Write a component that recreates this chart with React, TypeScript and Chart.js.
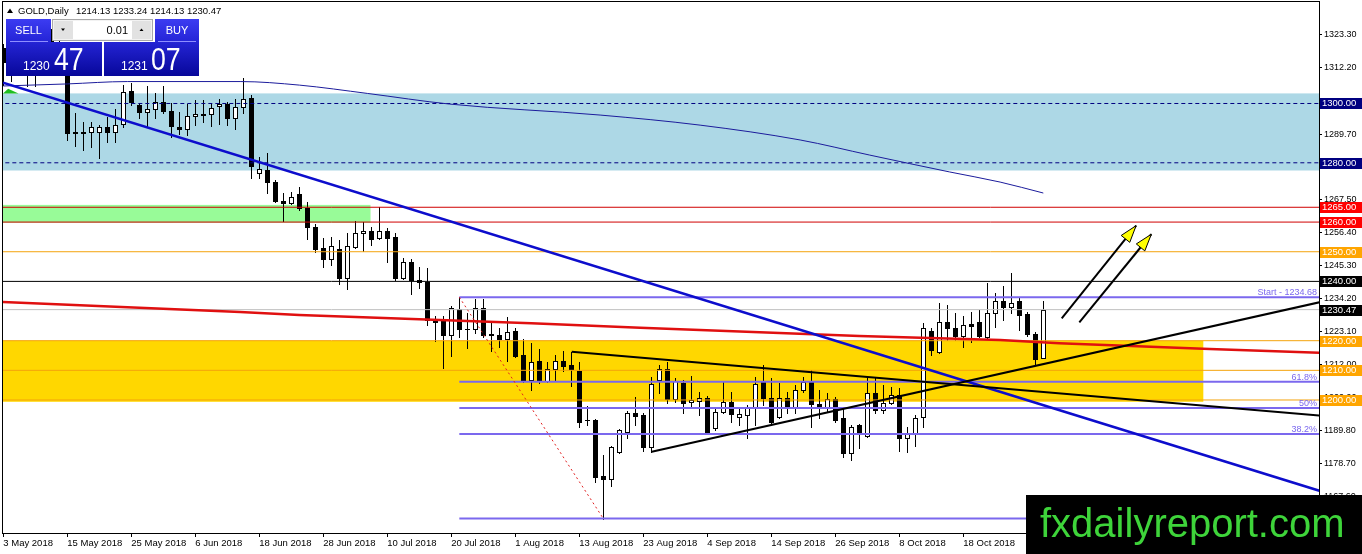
import { useEffect, useRef } from "react";
import { Chart, registerables } from "chart.js";

Chart.register(...registerables);

// GOLD daily bars, 3 May 2018 .. 1 Nov 2018 (index 0..130)
const open = [
  1318.6, 1314.0, 1314.6, 1313.5, 1313.0, 1312.8, 1321.5, 1318.0, 1316.5, 1290.1,
  1290.5, 1290.3, 1290.3, 1292.0, 1290.5, 1293.1, 1304.2, 1299.5, 1297.2, 1298.0,
  1300.6, 1297.6, 1292.0, 1291.3, 1295.8, 1296.5, 1296.4, 1299.2, 1299.7, 1295.0,
  1298.7, 1301.8, 1276.7, 1277.6, 1273.6, 1267.1, 1266.3, 1269.5, 1264.7, 1258.2,
  1251.2, 1247.5, 1250.8, 1241.0, 1251.7, 1256.2, 1257.0, 1254.7, 1257.0, 1254.9,
  1241.2, 1246.4, 1240.5, 1239.9, 1227.2, 1227.0, 1221.9, 1230.6, 1223.8, 1223.8,
  1230.9, 1222.2, 1221.9, 1220.7, 1223.3, 1215.2, 1206.7, 1213.2, 1206.5, 1210.4,
  1213.2, 1211.8, 1209.9, 1193.2, 1193.3, 1174.4, 1173.3, 1182.6, 1189.3, 1195.7,
  1194.9, 1184.3, 1206.6, 1210.4, 1200.2, 1205.6, 1199.2, 1199.7, 1200.6, 1190.4,
  1196.0, 1199.2, 1194.4, 1194.9, 1197.7, 1206.2, 1200.6, 1194.4, 1200.6, 1197.5,
  1203.4, 1206.2, 1198.7, 1197.7, 1200.2, 1193.8, 1182.0, 1191.6, 1187.9, 1202.3,
  1196.6, 1199.1, 1201.7, 1187.1, 1188.8, 1194.2, 1223.4, 1216.3, 1226.4, 1224.2,
  1221.6, 1225.6, 1226.4, 1221.1, 1229.4, 1233.5, 1231.3, 1233.5, 1228.9, 1222.3,
  1214.13,
];
const high = [
  1320.0, 1317.5, 1318.0, 1316.0, 1316.5, 1322.5, 1325.0, 1321.0, 1318.0, 1296.7,
  1293.9, 1293.9, 1292.7, 1295.5, 1298.0, 1306.2, 1307.0, 1300.1, 1305.9, 1303.6,
  1305.9, 1300.1, 1297.2, 1299.8, 1301.2, 1301.2, 1300.3, 1301.4, 1300.6, 1301.4,
  1308.5, 1302.9, 1281.9, 1283.4, 1274.3, 1269.7, 1270.3, 1271.9, 1266.9, 1259.4,
  1254.5, 1254.9, 1254.0, 1256.2, 1260.4, 1260.1, 1258.2, 1265.2, 1258.0, 1256.2,
  1247.8, 1247.5, 1244.8, 1244.4, 1228.3, 1228.3, 1231.7, 1234.68, 1229.2, 1234.0,
  1234.0, 1226.4, 1224.2, 1227.9, 1224.2, 1220.5, 1219.1, 1217.1, 1212.9, 1215.2,
  1216.5, 1216.3, 1212.9, 1198.0, 1193.5, 1181.3, 1184.6, 1190.2, 1196.4, 1201.1,
  1195.5, 1207.7, 1211.8, 1212.9, 1207.3, 1206.7, 1208.1, 1202.8, 1201.4, 1197.2,
  1206.2, 1202.8, 1197.2, 1198.3, 1207.9, 1211.8, 1207.3, 1205.6, 1202.8, 1205.1,
  1207.9, 1210.1, 1203.4, 1202.5, 1201.1, 1197.2, 1191.6, 1191.9, 1207.3, 1207.3,
  1205.1, 1204.5, 1203.9, 1190.8, 1195.0, 1225.9, 1224.2, 1232.8, 1232.0, 1229.2,
  1228.3, 1229.8, 1230.4, 1239.4, 1236.0, 1238.4, 1242.9, 1234.3, 1229.8, 1223.0,
  1233.24,
];
const low = [
  1306.2, 1307.6, 1310.5, 1305.9, 1305.9, 1310.5, 1316.0, 1312.0, 1287.7, 1285.7,
  1284.3, 1285.4, 1281.5, 1287.1, 1287.1, 1292.0, 1299.5, 1295.0, 1292.4, 1295.2,
  1296.9, 1288.8, 1289.6, 1289.4, 1292.7, 1293.9, 1292.4, 1293.1, 1292.7, 1291.3,
  1296.9, 1274.8, 1274.8, 1269.7, 1266.9, 1260.5, 1266.0, 1264.1, 1254.2, 1250.0,
  1245.0, 1245.5, 1239.1, 1237.3, 1251.2, 1250.4, 1252.3, 1254.2, 1246.6, 1240.4,
  1240.7, 1235.7, 1237.7, 1225.3, 1220.0, 1210.7, 1214.8, 1221.4, 1217.4, 1222.5,
  1221.4, 1216.6, 1218.0, 1213.3, 1214.6, 1206.2, 1203.4, 1205.8, 1206.2, 1206.7,
  1209.9, 1204.7, 1191.0, 1191.6, 1172.2, 1160.0, 1171.1, 1182.0, 1187.1, 1191.6,
  1182.9, 1182.6, 1202.3, 1198.9, 1199.4, 1195.5, 1197.7, 1194.9, 1188.5, 1189.9,
  1195.5, 1192.7, 1191.6, 1187.1, 1191.6, 1198.3, 1191.6, 1193.8, 1195.5, 1195.5,
  1202.8, 1191.0, 1193.8, 1196.1, 1192.7, 1180.9, 1179.8, 1183.7, 1187.6, 1195.7,
  1195.5, 1198.7, 1182.9, 1182.6, 1184.5, 1191.0, 1215.2, 1216.0, 1220.2, 1220.2,
  1218.0, 1219.7, 1221.4, 1220.8, 1224.7, 1227.0, 1229.2, 1223.6, 1221.6, 1211.8,
  1214.13,
];
const close = [
  1314.0, 1314.6, 1313.5, 1313.0, 1312.8, 1321.5, 1318.0, 1316.5, 1290.0, 1290.3,
  1289.9, 1292.2, 1292.0, 1290.5, 1292.7, 1304.0, 1300.6, 1297.2, 1298.0, 1300.6,
  1297.6, 1292.5, 1291.3, 1295.8, 1296.3, 1296.0, 1298.4, 1299.7, 1295.0, 1298.7,
  1301.4, 1279.0, 1277.8, 1273.6, 1267.2, 1266.3, 1268.6, 1264.7, 1258.2, 1250.9,
  1247.5, 1252.0, 1241.0, 1252.0, 1256.2, 1257.0, 1254.2, 1257.0, 1254.7, 1241.0,
  1246.4, 1240.5, 1239.7, 1227.0, 1226.4, 1221.9, 1230.9, 1223.8, 1224.0, 1230.9,
  1221.9, 1221.8, 1220.7, 1223.0, 1214.9, 1206.7, 1212.9, 1206.4, 1210.4, 1213.2,
  1211.5, 1210.5, 1192.7, 1193.4, 1174.1, 1173.3, 1184.3, 1189.9, 1195.5, 1194.7,
  1184.3, 1205.3, 1210.4, 1200.2, 1206.5, 1198.9, 1200.0, 1200.6, 1188.8, 1196.0,
  1199.2, 1195.2, 1195.2, 1197.7, 1205.4, 1200.6, 1192.7, 1200.6, 1197.7, 1203.4,
  1206.2, 1198.7, 1197.7, 1200.2, 1193.3, 1182.0, 1191.0, 1188.8, 1202.3, 1196.6,
  1198.9, 1201.7, 1187.1, 1189.0, 1193.8, 1224.2, 1216.9, 1226.4, 1224.2, 1221.6,
  1225.3, 1225.1, 1221.6, 1229.4, 1233.5, 1231.3, 1232.8, 1228.7, 1222.3, 1213.7,
  1230.47,
];

// time axis: one label every 8 bars
const tickLabels = [
  "3 May 2018", "15 May 2018", "25 May 2018", "6 Jun 2018", "18 Jun 2018", "28 Jun 2018",
  "10 Jul 2018", "20 Jul 2018", "1 Aug 2018", "13 Aug 2018", "23 Aug 2018", "4 Sep 2018",
  "14 Sep 2018", "26 Sep 2018", "8 Oct 2018", "18 Oct 2018", "30 Oct 2018",
];
const priceTicks = [
  1323.3, 1312.2, 1300.8, 1289.7, 1278.6, 1267.5, 1256.4, 1245.3, 1234.2, 1223.1,
  1212.0, 1200.9, 1189.8, 1178.7, 1167.6,
];

// drawn levels
const navyLevels = [1300, 1280];
const redLevels = [1265, 1260];
const orangeLevels = [1250, 1220, 1210, 1200];
const blackLevels = [1240];
const bid = 1230.47;
const ask = 1231.07;
const ohlcText = "1214.13 1233.24 1214.13 1230.47";

// zones: [fromBar, toBar, top, bottom]
const blueZone = [-5, 170, 1303.4, 1277.4];
const greenZone = [-5, 45.9, 1265.8, 1259.8];
const goldZone = [-5, 150, 1220, 1199.4];

// fibonacci retracement
const fibHigh = 1234.68;
const fibLow = 1160.0;
const fibFrom = 57;
const fibTo = 75;
const fibRatios = [1, 0.618, 0.5, 0.382, 0];
const fibNames = ["Start - 1234.68", "61.8%", "50%", "38.2%", ""];

// trend lines: [bar, price]
const blueTrend = [[-0.04, 1307.0], [164.5, 1169.4]];
const lowerTrend = [[81.05, 1182.56], [164.5, 1232.95]];
const upperTrend = [[71.05, 1216.3], [164.5, 1194.8]];
const redAverage = [
  [-0.04, 1233.05], [29.6, 1229.7], [37, 1228.7], [52, 1227.2], [57.1, 1226.7], [66, 1225.9],
  [79.6, 1224.4], [107, 1221.6], [124.6, 1220.2], [132, 1219.1], [150.8, 1217.2], [164.5, 1215.9],
];
const navyAverage = [
  [0, 1305.9], [8, 1306.6], [15.5, 1307.4], [29.6, 1307.4], [37, 1306.2], [45.5, 1303.4],
  [55.8, 1299.8], [74.6, 1296.1], [87.1, 1292.7], [99.6, 1287.7], [108.3, 1282.6],
  [118.3, 1276.9], [124.6, 1273.5], [130, 1269.8],
];
const arrows = [
  [[132.3, 1227.55], [141.6, 1258.8]],
  [[134.5, 1226.2], [143.5, 1255.9]],
];

const FONT = "'Liberation Sans', Arial, sans-serif";

const line = (pts, color, width, order, dash = [], smooth = false) => ({
  type: "line",
  data: pts.map(([a, b]) => ({ x: a, y: b })),
  borderColor: color,
  borderWidth: width,
  borderDash: dash,
  pointRadius: 0,
  fill: false,
  clip: 0,
  order,
  cubicInterpolationMode: smooth ? "monotone" : "default",
  tension: smooth ? 0.4 : 0,
});

const level = (v, color, width, order, dash = [], from = -5) =>
  line([[from, v], [170, v]], color, width, order, dash);

const overlay = {
  id: "overlay",
  beforeDatasetsDraw(chart) {
    const { ctx, chartArea: a, scales } = chart;
    const x = scales.x;
    const y = scales.y;
    ctx.save();
    ctx.beginPath();
    ctx.rect(a.left, a.top, a.right - a.left, a.bottom - a.top);
    ctx.clip();
    const zone = (z, color) => {
      const l = Math.max(a.left, x.getPixelForValue(z[0]));
      const r = Math.min(a.right, x.getPixelForValue(z[1]));
      const t = y.getPixelForValue(z[2]);
      const b = y.getPixelForValue(z[3]);
      ctx.fillStyle = color;
      ctx.fillRect(l, t, r - l, b - t);
    };
    zone(blueZone, "#add8e6");
    zone(greenZone, "#98fb98");
    zone(goldZone, "#ffd700");

    for (let i = 0; i < open.length; i++) {
      const xc = Math.round(x.getPixelForValue(i));
      const yh = Math.round(y.getPixelForValue(high[i]));
      const yl = Math.round(y.getPixelForValue(low[i]));
      const yo = Math.round(y.getPixelForValue(open[i]));
      const yc = Math.round(y.getPixelForValue(close[i]));
      const top = Math.min(yo, yc);
      const bot = Math.max(yo, yc);
      ctx.fillStyle = "#000";
      ctx.fillRect(xc, yh, 1, yl - yh + 1);
      ctx.fillRect(xc - 2, top, 5, bot - top + 1);
      if (close[i] >= open[i] && bot - top >= 2) {
        ctx.fillStyle = "#fff";
        ctx.fillRect(xc - 1, top + 1, 3, bot - top - 1);
      }
    }
    ctx.restore();
  },
  afterDatasetsDraw(chart) {
    const { ctx, chartArea: a, scales } = chart;
    const x = scales.x;
    const y = scales.y;
    ctx.save();
    // fib labels
    ctx.font = `9px ${FONT}`;
    ctx.fillStyle = "#7b68ee";
    ctx.textAlign = "right";
    ctx.textBaseline = "alphabetic";
    fibRatios.forEach((r, k) => {
      const v = fibLow + (fibHigh - fibLow) * r;
      if (fibNames[k]) ctx.fillText(fibNames[k], a.right - 2, y.getPixelForValue(v) - 2);
    });
    // arrow heads
    arrows.forEach(([p0, p1]) => {
      const x0 = x.getPixelForValue(p0[0]);
      const y0 = y.getPixelForValue(p0[1]);
      const x1 = x.getPixelForValue(p1[0]);
      const y1 = y.getPixelForValue(p1[1]);
      const ang = Math.atan2(y1 - y0, x1 - x0);
      const len = 17;
      const half = 5.5;
      const bx = x1 - len * Math.cos(ang);
      const by = y1 - len * Math.sin(ang);
      ctx.beginPath();
      ctx.moveTo(x1, y1);
      ctx.lineTo(bx + half * Math.sin(ang), by - half * Math.cos(ang));
      ctx.lineTo(bx - half * Math.sin(ang), by + half * Math.cos(ang));
      ctx.closePath();
      ctx.fillStyle = "#ffff00";
      ctx.fill();
      ctx.strokeStyle = "#000";
      ctx.lineWidth = 1;
      ctx.stroke();
    });
    // small green marker at top-left
    ctx.beginPath();
    ctx.moveTo(a.left, y.getPixelForValue(1303.4));
    ctx.lineTo(x.getPixelForValue(0.6), y.getPixelForValue(1305.0));
    ctx.lineTo(x.getPixelForValue(1.9), y.getPixelForValue(1303.4));
    ctx.closePath();
    ctx.fillStyle = "#1fbf1f";
    ctx.fill();
    ctx.restore();
  },
  afterDraw(chart) {
    const { ctx, chartArea: a, scales } = chart;
    const y = scales.y;
    ctx.save();
    // frame
    ctx.strokeStyle = "#000";
    ctx.lineWidth = 1;
    ctx.strokeRect(a.left - 0.5, a.top - 0.5, a.right - a.left + 1, a.bottom - a.top + 1);

    // price tags on axis
    const tag = (v, bg) => {
      const py = Math.round(y.getPixelForValue(v));
      ctx.fillStyle = bg;
      ctx.fillRect(a.right + 1, py - 5, 42, 11);
      ctx.fillStyle = "#fff";
      ctx.font = `9.5px ${FONT}`;
      ctx.textAlign = "left";
      ctx.textBaseline = "middle";
      ctx.fillText(v.toFixed(2), a.right + 3, py + 0.5);
    };
    navyLevels.forEach((v) => tag(v, "#000080"));
    redLevels.forEach((v) => tag(v, "#ff0000"));
    orangeLevels.forEach((v) => tag(v, "#ffa500"));
    blackLevels.forEach((v) => tag(v, "#000"));
    tag(bid, "#000");

    // header
    ctx.fillStyle = "#000";
    ctx.beginPath();
    ctx.moveTo(7, 13);
    ctx.lineTo(10, 8.5);
    ctx.lineTo(13, 13);
    ctx.closePath();
    ctx.fill();
    ctx.font = `9.5px ${FONT}`;
    ctx.textAlign = "left";
    ctx.textBaseline = "alphabetic";
    ctx.fillText("GOLD,Daily", 18, 14);
    ctx.fillText(ohlcText, 76, 14);

    // one-click trading panel
    const grad = (t, b, c1, c2) => {
      const g = ctx.createLinearGradient(0, t, 0, b);
      g.addColorStop(0, c1);
      g.addColorStop(1, c2);
      return g;
    };
    ctx.fillStyle = grad(19, 42, "#3c3cf2", "#2424d6");
    ctx.fillRect(6, 19, 45, 23);
    ctx.fillRect(155, 19, 44, 23);
    ctx.fillStyle = grad(42, 76, "#2424d4", "#07079a");
    ctx.fillRect(6, 42, 96, 34);
    ctx.fillRect(104, 42, 95, 34);
    ctx.strokeStyle = "#8e8eff";
    ctx.beginPath();
    ctx.moveTo(10, 41.5);
    ctx.lineTo(48, 41.5);
    ctx.moveTo(158, 41.5);
    ctx.lineTo(196, 41.5);
    ctx.stroke();
    // lot box
    ctx.fillStyle = "#f2f2f2";
    ctx.fillRect(52, 19, 101, 22);
    ctx.strokeStyle = "#a8a8a8";
    ctx.strokeRect(52.5, 19.5, 100, 21);
    ctx.fillStyle = "#e2e2e2";
    ctx.fillRect(54, 21, 19, 18);
    ctx.fillRect(132, 21, 19, 18);
    ctx.fillStyle = "#fff";
    ctx.fillRect(73, 21, 59, 18);
    ctx.fillStyle = "#000";
    ctx.beginPath();
    ctx.moveTo(61, 28.5);
    ctx.lineTo(65, 28.5);
    ctx.lineTo(63, 31);
    ctx.closePath();
    ctx.moveTo(139.5, 31);
    ctx.lineTo(143.5, 31);
    ctx.lineTo(141.5, 28.5);
    ctx.closePath();
    ctx.fill();
    ctx.font = `11px ${FONT}`;
    ctx.textAlign = "right";
    ctx.textBaseline = "middle";
    ctx.fillText("0.01", 128, 30.5);
    ctx.fillStyle = "#fff";
    ctx.textAlign = "center";
    ctx.fillText("SELL", 28.5, 31);
    ctx.fillText("BUY", 177, 31);
    ctx.textAlign = "left";
    ctx.textBaseline = "alphabetic";
    const [bidBig, bidSmall] = [bid.toFixed(2).split(".")[1], Math.floor(bid).toString()];
    const [askBig, askSmall] = [ask.toFixed(2).split(".")[1], Math.floor(ask).toString()];
    ctx.font = `12px ${FONT}`;
    ctx.fillText(bidSmall, 23, 70);
    ctx.fillText(askSmall, 121, 70);
    ctx.font = `31px ${FONT}`;
    const big = (s, px) => {
      ctx.save();
      ctx.translate(px, 70);
      ctx.scale(0.86, 1);
      ctx.fillText(s, 0, 0);
      ctx.restore();
    };
    big(bidBig, 54);
    big(askBig, 151);

    // watermark
    ctx.fillStyle = "#000";
    ctx.fillRect(1026, 495, 336, 59);
    ctx.fillStyle = "#3ed43a";
    ctx.font = `40px ${FONT}`;
    ctx.textAlign = "left";
    ctx.textBaseline = "alphabetic";
    ctx.fillText("fxdailyreport.com", 1040, 537);
    ctx.restore();
  },
};

export default function App() {
  const canvasRef = useRef<HTMLCanvasElement | null>(null);

  useEffect(() => {
    const ctx = canvasRef.current.getContext("2d");
    const fibLines = fibRatios.map((r) =>
      level(fibLow + (fibHigh - fibLow) * r, "#7b68ee", 2, 40, [], fibFrom)
    );
    const myChart = new Chart(ctx, {
      type: "line",
      data: {
        datasets: [
          line(arrows[0], "#000", 2, 1),
          line(arrows[1], "#000", 2, 1),
          line(lowerTrend, "#000", 2, 5),
          line(upperTrend, "#000", 2, 5),
          line(blueTrend, "#0d0dcc", 2.5, 6),
          line(redAverage, "#e01010", 2.5, 7),
          line(navyAverage, "#1c1c9c", 1, 8, [], true),
          line([[fibFrom, fibHigh], [fibTo, fibLow]], "#e02020", 1, 9, [2, 3]),
          ...fibLines,
          ...navyLevels.map((v) => level(v, "#000080", 1, 50, [4, 3])),
          ...redLevels.map((v) => level(v, "#d00000", 1, 50)),
          ...orangeLevels.map((v) => level(v, "#f4a30c", 1, 50)),
          ...blackLevels.map((v) => level(v, "#000", 1, 50)),
          level(bid, "#c0c0c0", 1, 55),
        ],
      },
      options: {
        animation: false,
        responsive: false,
        events: [],
        layout: { padding: { left: 3, top: 2, right: 0, bottom: 0 } },
        plugins: { legend: { display: false }, tooltip: { enabled: false }, title: { display: false } },
        scales: {
          x: {
            type: "linear",
            position: "bottom",
            min: -0.04,
            max: 164.46,
            afterBuildTicks: (scale) => {
              scale.ticks = tickLabels.map((_, k) => ({ value: k * 8 }));
            },
            afterFit: (scale) => {
              scale.height = 21;
              scale.paddingLeft = 0;
              scale.paddingRight = 0;
            },
            ticks: {
              callback: (_v, k) => tickLabels[k],
              align: "start",
              maxRotation: 0,
              autoSkip: false,
              padding: 1,
              color: "#000",
              font: { family: FONT, size: 9.5 },
            },
            grid: { drawOnChartArea: false, drawTicks: true, tickLength: 4, color: "#000" },
            border: { display: true, color: "#000" },
          },
          y: {
            type: "linear",
            position: "right",
            min: 1155.14,
            max: 1334.23,
            afterBuildTicks: (scale) => {
              scale.ticks = priceTicks.map((v) => ({ value: v }));
            },
            afterFit: (scale) => {
              scale.width = 43;
              scale.paddingTop = 0;
              scale.paddingBottom = 0;
            },
            ticks: {
              callback: (v) => Number(v).toFixed(2),
              padding: 2,
              color: "#000",
              font: { family: FONT, size: 9 },
            },
            grid: { drawOnChartArea: false, drawTicks: true, tickLength: 3, color: "#000" },
            border: { display: true, color: "#000" },
          },
        },
      },
      plugins: [overlay],
    });

    return () => {
      myChart.destroy();
    };
  }, []);

  return (
    <div style={{ position: "fixed", left: 0, top: 0, width: 1362, height: 554, background: "#fff" }}>
      <canvas ref={canvasRef} width={1362} height={554} style={{ width: 1362, height: 554 }} />
    </div>
  );
}
